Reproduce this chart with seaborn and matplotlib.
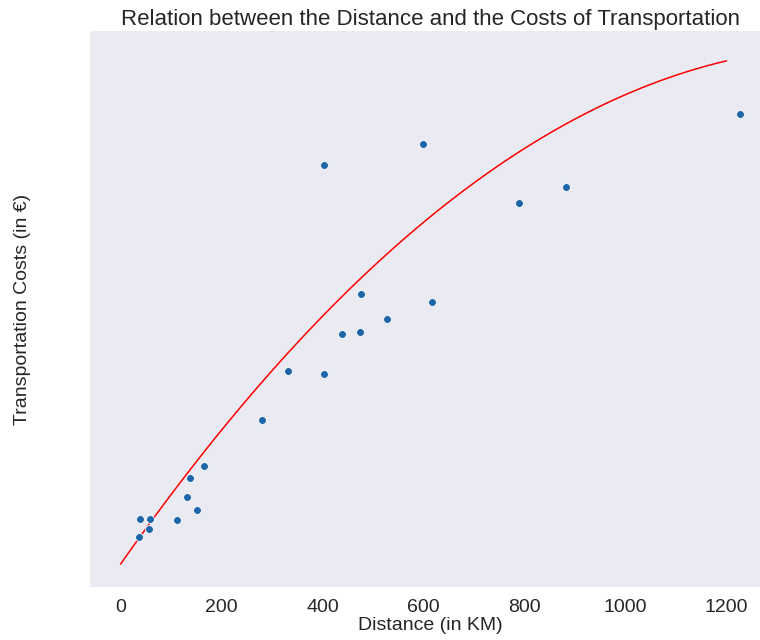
import matplotlib
matplotlib.use("Agg")
import matplotlib.pyplot as plt
import seaborn as sns
import pandas as pd

distance_km = [39, 58, 56, 37, 112, 151, 132, 138, 165, 280, 331, 402, 438,
               474, 476, 528, 616, 599, 403, 789, 882, 1227]
cost_eur = [90, 90, 71, 55, 89, 109, 135, 172, 197, 289, 387, 380, 461,
            465, 541, 490, 525, 841, 799, 723, 755, 900]

# Points
curve_km = [0, 183, 237, 389, 494, 560, 884, 1062, 1200]
curve_cost = [0, 248, 311, 485, 588, 648, 885, 961, 1007]

xticks = [0, 200, 400, 600, 800, 1000, 1200]

sns.set_style("dark")
plt.rcParams['font.family'] = ['Liberation Sans', 'DejaVu Sans']

df = pd.DataFrame({"Distance": distance_km, "Cost": cost_eur})
curve = pd.DataFrame({"Distance": curve_km, "Cost": curve_cost})

fig = plt.figure(figsize=(7.6, 6.4), dpi=100)
W, H = 760, 640
left, right, top, bottom = 89.5, 771, 31, 587
ax = fig.add_axes([left / W, (H - bottom) / H, (right - left) / W, (bottom - top) / H])

sns.scatterplot(data=df, x="Distance", y="Cost", ax=ax, color="#1d66a8", s=32,
                edgecolor="white", linewidth=0.6, zorder=3)
sns.regplot(data=curve, x="Distance", y="Cost", order=2, ci=None, scatter=False,
            ax=ax, line_kws={"color": "red", "linewidth": 1.1}, truncate=True)

ax.set_xlim(-61.5, 1288)
ax.set_ylim(-46, 1066)
ax.set_xticks(xticks)
ax.set_xticklabels([str(t) for t in xticks])
ax.set_yticks([])
ax.tick_params(axis="x", labelsize=14, colors="#262626", pad=5)
ax.set_xlabel("Distance (in KM)", fontsize=14, color="#262626", labelpad=1)
ax.set_ylabel("Transportation Costs (in €)", fontsize=14, color="#262626", labelpad=42)
ax.set_title("Relation between the Distance and the Costs of Transportation",
             fontsize=16, color="#262626", pad=4)
for s in ax.spines.values():
    s.set_visible(False)

fig.savefig("out.png", dpi=100)
